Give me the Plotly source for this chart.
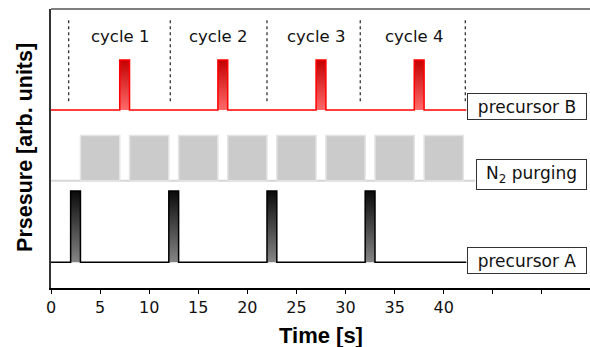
import plotly.graph_objects as go

# ---------------- data ----------------
cycle_bounds = [1.8, 12.15, 22.0, 31.5, 42.2]
cycle_labels = ["cycle 1", "cycle 2", "cycle 3", "cycle 4"]
cycle_label_x = [7, 17, 27, 37]

pulse_A_start = [2, 12, 22, 32]
pulse_B_start = [7, 17, 27, 37]
pulse_width = 1

purge_start = [3, 8, 13, 18, 23, 28, 33, 38]
purge_end = [7, 12, 17, 22, 27, 32, 37, 42]

signal_end = 42.3
purge_line_end = 43.2

A_low, A_high = 0.92, 3.48
N2_low, N2_high = 3.84, 5.47
B_low, B_high = 6.38, 8.17
dot_low, dot_high = 6.69, 9.68
cycle_label_y = 9.03

tick_vals = [0, 5, 10, 15, 20, 25, 30, 35, 40]
tick_text = ["0", "5", "10", "15", "20", "25", "30", "35", "40"]
extra_tick_vals = [45, 50]

series_labels = ["precursor B", "N<sub>2</sub> purging", "precursor A"]
series_label_x = [48.5, 48.9, 48.5]
series_label_y = [6.52, 4.07, 1.0]

# ---------------- helpers ----------------
def waveform(starts, width, low, high, end):
    xs, ys = [0], [low]
    for s in starts:
        xs += [s, s, s + width, s + width]
        ys += [low, high, high, low]
    xs.append(end)
    ys.append(low)
    return xs, ys


def rects(starts, ends, low, high):
    xs, ys = [], []
    for s, e in zip(starts, ends):
        xs += [s, s, e, e, s, None]
        ys += [low, high, high, low, low, None]
    return xs, ys


fig = go.Figure()

# N2 purging baseline and blocks
fig.add_trace(go.Scatter(x=[0, purge_line_end], y=[N2_low, N2_low], mode="lines",
                         line=dict(color="#d6d6d6", width=2), hoverinfo="skip"))
px_, py_ = rects(purge_start, purge_end, N2_low, N2_high)
fig.add_trace(go.Scatter(x=px_, y=py_, mode="lines", fill="toself",
                         fillcolor="#cbcbcb", line=dict(color="#e4e4e4", width=1.5),
                         hoverinfo="skip"))

# precursor B pulses (gradient) + waveform
bx, by = rects(pulse_B_start, [s + pulse_width for s in pulse_B_start], B_low, B_high)
fig.add_trace(go.Scatter(x=bx, y=by, mode="none", fill="toself",
                         fillgradient=dict(type="vertical",
                                           colorscale=[[0, "#ff6a6a"], [1, "#c40000"]]),
                         hoverinfo="skip"))
wx, wy = waveform(pulse_B_start, pulse_width, B_low, B_high, signal_end)
fig.add_trace(go.Scatter(x=wx, y=wy, mode="lines",
                         line=dict(color="#ff0000", width=1.5), hoverinfo="skip"))

# precursor A pulses (gradient) + waveform
ax_, ay_ = rects(pulse_A_start, [s + pulse_width for s in pulse_A_start], A_low, A_high)
fig.add_trace(go.Scatter(x=ax_, y=ay_, mode="none", fill="toself",
                         fillgradient=dict(type="vertical",
                                           colorscale=[[0, "#858585"], [1, "#0a0a0a"]]),
                         hoverinfo="skip"))
wx, wy = waveform(pulse_A_start, pulse_width, A_low, A_high, signal_end)
fig.add_trace(go.Scatter(x=wx, y=wy, mode="lines",
                         line=dict(color="#000000", width=1.5), hoverinfo="skip"))

# cycle boundaries (dotted)
dx, dy = [], []
for b in cycle_bounds:
    dx += [b, b, None]
    dy += [dot_low, dot_high, None]
fig.add_trace(go.Scatter(x=dx, y=dy, mode="lines",
                         line=dict(color="#333333", width=1.3, dash="dot"),
                         hoverinfo="skip"))

annotations = []
for lab, x in zip(cycle_labels, cycle_label_x):
    annotations.append(dict(x=x, y=cycle_label_y, text=lab, showarrow=False,
                            font=dict(family="DejaVu Sans", size=16.5, color="#111111"),
                            xanchor="center", yanchor="middle"))

for lab, x, y in zip(series_labels, series_label_x, series_label_y):
    w = 107 if "N<sub>" in lab else 116
    h = 27 if "N<sub>" in lab else 23
    annotations.append(dict(x=x, y=y, text=lab, showarrow=False,
                            font=dict(family="DejaVu Sans", size=17, color="#111111"),
                            xanchor="center", yanchor="middle",
                            bgcolor="white", bordercolor="#333333", borderwidth=1,
                            borderpad=1, width=w, height=h, align="center"))

# axis titles
annotations.append(dict(x=0.5, y=0, xref="paper", yref="paper", yshift=-47,
                        text="<b>Time [s]</b>", showarrow=False,
                        font=dict(family="Liberation Sans, Arial", size=22, color="#000"),
                        xanchor="center", yanchor="middle"))
annotations.append(dict(x=0, y=0.502, xref="paper", yref="paper", xshift=-26,
                        text="<b>Prsesure [arb. units]</b>", showarrow=False, textangle=-90,
                        font=dict(family="Liberation Sans, Arial", size=21.5, color="#000"),
                        xanchor="center", yanchor="middle"))

fig.update_layout(
    width=590, height=347,
    margin=dict(l=51, r=0, t=9, b=59),
    paper_bgcolor="white", plot_bgcolor="white",
    showlegend=False,
    annotations=annotations,
    shapes=[dict(type="line", xref="paper", yref="paper", x0=0, x1=1, y0=1, y1=1,
                 line=dict(color="#000000", width=1.2))],
)
fig.update_xaxes(range=[0, 54.9], showgrid=False, zeroline=False,
                 showline=True, linecolor="#000000", linewidth=1.5,
                 ticks="outside", ticklen=4, tickwidth=1.2, tickcolor="#000000",
                 tickvals=tick_vals, ticktext=tick_text,
                 minor=dict(tickmode="array", tickvals=extra_tick_vals, ticks="outside",
                            ticklen=4, tickwidth=1.2, tickcolor="#000000"),
                 tickfont=dict(family="DejaVu Sans", size=16, color="#111111"))
fig.update_yaxes(range=[0, 10], showgrid=False, zeroline=False,
                 showline=True, linecolor="#333333", linewidth=1.5,
                 showticklabels=False, ticks="")

fig.write_html("out.html", config={"displayModeBar": False},
               post_script="document.body.style.margin='0';document.body.style.overflow='hidden';")
